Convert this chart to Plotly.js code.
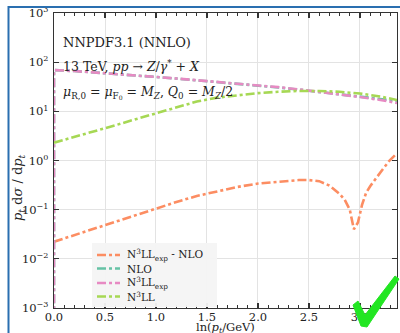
<!DOCTYPE html>
<html>
<head>
<meta charset="utf-8">
<script src="https://cdn.plot.ly/plotly-2.35.2.min.js"></script>
<style>html,body{margin:0;padding:0;background:#fff;}#chart{width:400px;height:333px;}</style>
</head>
<body>
<div id="chart"></div>
<script>
// ---- data ----
var xMain = [0, 0, 0.2, 0.4, 0.6, 0.8, 1.0, 1.2, 1.4, 1.6, 1.8, 2.0, 2.2, 2.4, 2.6, 2.8, 3.0, 3.2, 3.363];
var n3llExp = [1e-4, 69, 66, 62, 58, 54, 50, 46.5, 43, 40, 37, 34, 31, 28, 25, 22, 19.5, 17, 14.8];
var nlo     = [1e-4, 69, 66, 62, 58, 54, 50, 46.4, 42.8, 39.8, 36.7, 33.7, 30.6, 27.6, 24.6, 21.8, 19.6, 17.5, 16.3];
var xN3ll = [0, 0.2, 0.4, 0.6, 0.8, 1.0, 1.2, 1.4, 1.6, 1.8, 2.0, 2.2, 2.4, 2.6, 2.8, 3.0, 3.2, 3.363];
var n3ll  = [2.3, 3.0, 3.9, 5.2, 6.9, 9.2, 12.2, 15.8, 19, 21.5, 23.5, 25, 26, 26, 25, 23, 20, 17];
var xDiff = [0, 0.2, 0.4, 0.6, 0.8, 1.0, 1.2, 1.4, 1.6, 1.8, 2.0, 2.2, 2.4, 2.5, 2.6, 2.7, 2.8, 2.85, 2.9, 2.94, 2.98, 3.02, 3.06, 3.1, 3.16, 3.22, 3.29, 3.363];
var diff  = [0.0223, 0.0305, 0.0418, 0.057, 0.078, 0.104, 0.143, 0.19, 0.235, 0.29, 0.34, 0.375, 0.40, 0.40, 0.38, 0.31, 0.21, 0.16, 0.10, 0.04, 0.055, 0.125, 0.22, 0.30, 0.45, 0.65, 1.0, 1.4];
var names = ['N<sup>3</sup>LL<sub>exp</sub> - NLO', 'NLO', 'N<sup>3</sup>LL<sub>exp</sub>', 'N<sup>3</sup>LL'];
var colors = ['#fc8d62', '#66c2a5', '#e78ac3', '#a6d854'];
var xTickVals = [0, 0.5, 1.0, 1.5, 2.0, 2.5, 3.0];
var yTickVals = [1e-3, 1e-2, 1e-1, 1, 10, 100, 1000];
var yTickText = ['10<sup>−3</sup>', '10<sup>−2</sup>', '10<sup>−1</sup>', '10<sup>0</sup>', '10<sup>1</sup>', '10<sup>2</sup>', '10<sup>3</sup>'];

// ---- layout helpers (pixel -> paper) ----
var W = 400, H = 333, L = 54, R = 3, T = 13, B = 25;
var pw = W - L - R, ph = H - T - B;
function px(x){ return (x - L) / pw; }
function py(y){ return (H - B - y) / ph; }

var FONT = 'DejaVu Serif';
var dash = '9px,3px,3px,3px';
function tr(x, y, i){
  return {x: x, y: y, name: names[i], type: 'scatter', mode: 'lines', showlegend: false,
          line: {color: colors[i], width: 2.6, dash: dash}};
}
var data = [tr(xDiff, diff, 0), tr(xMain, nlo, 1), tr(xMain, n3llExp, 2), tr(xN3ll, n3ll, 3)];

var check = 'M ' + px(353) + ',' + py(305) + ' L ' + px(358) + ',' + py(301) +
  ' L ' + px(365) + ',' + py(315) + ' L ' + px(395) + ',' + py(276) +
  ' L ' + px(399) + ',' + py(279) + ' L ' + px(367) + ',' + py(327) +
  ' L ' + px(361) + ',' + py(326) + ' Z';

var annotations = [
  {xref: 'paper', yref: 'paper', x: px(61), y: py(43), xanchor: 'left', yanchor: 'middle', showarrow: false,
   text: 'NNPDF3.1 (NNLO)', font: {family: FONT, size: 13}},
  {xref: 'paper', yref: 'paper', x: px(61), y: py(66), xanchor: 'left', yanchor: 'middle', showarrow: false,
   text: '13 TeV, <i>pp</i> → <i>Z</i>/<i>γ</i><sup>*</sup> + <i>X</i>', font: {family: FONT, size: 12.5}},
  {xref: 'paper', yref: 'paper', x: px(61), y: py(92), xanchor: 'left', yanchor: 'middle', showarrow: false,
   text: '<i>μ</i><sub>R,0</sub> = <i>μ</i><sub>F<sub>0</sub></sub> = <i>M</i><sub><i>Z</i></sub>, <i>Q</i><sub>0</sub> = <i>M</i><sub><i>Z</i></sub>/2', font: {family: FONT, size: 12.5}},
  {xref: 'paper', yref: 'paper', x: px(18), y: py(188), xanchor: 'center', yanchor: 'middle', showarrow: false,
   textangle: -90, text: '<i>p</i><sub><i>t</i></sub> d<i>σ</i> / d<i>p</i><sub><i>t</i></sub>', font: {family: FONT, size: 13}},
  {xref: 'paper', yref: 'paper', x: px(225), y: py(327.5), xanchor: 'center', yanchor: 'middle', showarrow: false,
   text: 'ln(<i>p</i><sub><i>t</i></sub>/GeV)', font: {family: FONT, size: 11.5}}
];
var shapes = [
  {type: 'rect', xref: 'paper', yref: 'paper', x0: px(92), x1: px(217), y0: py(243), y1: py(307),
   fillcolor: 'rgba(244,244,244,0.95)', line: {width: 0}},
  {type: 'line', xref: 'paper', yref: 'paper', x0: px(8.5), x1: px(8.5), y0: py(6), y1: py(334),
   line: {color: '#2a6fb0', width: 2}},
  {type: 'line', xref: 'paper', yref: 'paper', x0: px(8), x1: px(401), y0: py(7), y1: py(7),
   line: {color: '#2a6fb0', width: 2}},
  {type: 'path', xref: 'paper', yref: 'paper', path: check, fillcolor: '#22e622',
   line: {color: '#22e622', width: 1}}
];
// legend (drawn manually for compact row spacing)
var legRows = [255, 268.5, 283, 296.5];
for (var i = 0; i < names.length; i++) {
  shapes.push({type: 'line', xref: 'paper', yref: 'paper', x0: px(97), x1: px(120), y0: py(legRows[i]), y1: py(legRows[i]),
               line: {color: colors[i], width: 2.6, dash: dash}});
  annotations.push({xref: 'paper', yref: 'paper', x: px(125), y: py(legRows[i]), xanchor: 'left', yanchor: 'middle',
                    showarrow: false, text: names[i], font: {family: FONT, size: 10.5, color: '#222'}});
}

var layout = {
  width: W, height: H,
  margin: {l: L, r: R, t: T, b: B, pad: 0},
  paper_bgcolor: '#fff', plot_bgcolor: '#fff',
  font: {family: FONT, size: 11, color: '#222'},
  showlegend: false,
  xaxis: {range: [0, 3.363], tickvals: xTickVals, tickformat: '.1f',
          showgrid: true, gridcolor: '#e3e3e3', gridwidth: 1,
          showline: true, linecolor: '#333', linewidth: 1.3, mirror: 'ticks',
          ticks: 'inside', ticklen: 5, tickwidth: 1.3, tickcolor: '#333', ticklabelstandoff: -2,
          minor: {dtick: 0.1, ticks: 'inside', ticklen: 3, tickwidth: 1, tickcolor: '#333', showgrid: false},
          zeroline: false, tickfont: {family: FONT, size: 11.5}},
  yaxis: {type: 'log', range: [-3, 3], tickvals: yTickVals, ticktext: yTickText,
          showgrid: true, gridcolor: '#e3e3e3', gridwidth: 1,
          showline: true, linecolor: '#333', linewidth: 1.3, mirror: 'ticks',
          ticks: 'inside', ticklen: 5, tickwidth: 1.3, tickcolor: '#333', ticklabelstandoff: 2,
          zeroline: false, tickfont: {family: FONT, size: 11.5}},
  annotations: annotations,
  shapes: shapes
};
Plotly.newPlot('chart', data, layout, {displayModeBar: false, staticPlot: true});
</script>
</body>
</html>
